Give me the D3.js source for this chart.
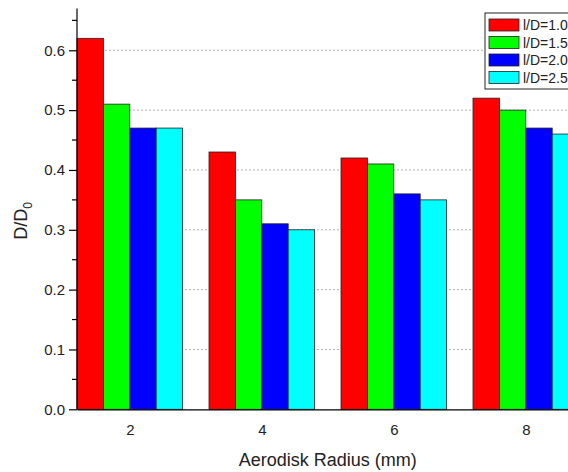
<!DOCTYPE html>
<html>
<head>
<meta charset="utf-8">
<script src="https://cdn.jsdelivr.net/npm/d3@7"></script>
<style>
  html, body { margin: 0; padding: 0; background: #fff; }
  svg { display: block; font-family: "Liberation Sans", Arial, sans-serif; }
</style>
</head>
<body>
<svg id="chart" width="568" height="472"></svg>
<script>
const categories = [2, 4, 6, 8];
const seriesNames = ["l/D=1.0", "l/D=1.5", "l/D=2.0", "l/D=2.5"];
const seriesColors = ["#ff0000", "#00ff00", "#0000ff", "#00ffff"];
const s10 = [0.62, 0.43, 0.42, 0.52];
const s15 = [0.51, 0.35, 0.41, 0.50];
const s20 = [0.47, 0.31, 0.36, 0.47];
const s25 = [0.47, 0.30, 0.35, 0.46];
const seriesValues = [s10, s15, s20, s25];
const yTicks = [0.0, 0.1, 0.2, 0.3, 0.4, 0.5, 0.6];
const yMinorTicks = [0.05, 0.15, 0.25, 0.35, 0.45, 0.55, 0.65];

const svg = d3.select("#chart");
const x = d3.scaleLinear().domain([1.2, 8.8]).range([77, 578.6]);
const y = d3.scaleLinear().domain([0, 0.67]).range([409.3, 8.4]);
const barW = 0.4;

// gridlines
svg.append("g").selectAll("line").data(yTicks.filter(d => d > 0)).join("line")
  .attr("x1", x.range()[0]).attr("x2", x.range()[1])
  .attr("y1", d => y(d)).attr("y2", d => y(d))
  .attr("stroke", "#b0b0b0").attr("stroke-width", 1).attr("stroke-dasharray", "2,2");

// bars
const bars = svg.append("g");
seriesValues.forEach((vals, si) => {
  bars.append("g").selectAll("rect").data(vals).join("rect")
    .attr("x", (d, i) => x(categories[i] - 0.8 + si * barW))
    .attr("width", x(barW) - x(0))
    .attr("y", d => y(d))
    .attr("height", d => y(0) - y(d))
    .attr("fill", seriesColors[si])
    .attr("stroke", "#222").attr("stroke-width", 0.8);
});

// y axis
const yAxis = svg.append("g").attr("transform", `translate(${x.range()[0]},0)`);
yAxis.call(d3.axisLeft(y).tickValues(yTicks).tickFormat(d3.format(".1f")).tickSize(8).tickPadding(4))
  .call(g => g.select(".domain").attr("d", `M0,${y(0)}V${y(0.67)}`).attr("stroke", "#000").attr("stroke-width", 1.2));
yAxis.selectAll("text").attr("font-size", 15).attr("fill", "#222").attr("font-family", "Liberation Sans, Arial, sans-serif");
yAxis.selectAll(".tick line").attr("stroke", "#000").attr("stroke-width", 1.2);
yAxis.append("g").selectAll("line").data(yMinorTicks).join("line")
  .attr("x1", -5).attr("x2", 0).attr("y1", d => y(d)).attr("y2", d => y(d))
  .attr("stroke", "#000").attr("stroke-width", 1.2);

// x axis
const xAxis = svg.append("g").attr("transform", `translate(0,${y(0)})`);
xAxis.call(d3.axisBottom(x).tickValues(categories).tickSize(0).tickPadding(15))
  .call(g => g.select(".domain").attr("stroke", "#000").attr("stroke-width", 1.2));
xAxis.selectAll("text").attr("font-size", 15).attr("fill", "#222").attr("font-family", "Liberation Sans, Arial, sans-serif");

// axis labels
svg.append("text").attr("x", (x.range()[0] + x.range()[1]) / 2).attr("y", 466)
  .attr("text-anchor", "middle").attr("font-size", 18).attr("fill", "#222")
  .text("Aerodisk Radius (mm)");

const yl = svg.append("text").attr("transform", "translate(27,221) rotate(-90)")
  .attr("text-anchor", "middle").attr("font-size", 18).attr("fill", "#222");
yl.append("tspan").text("D/D");
yl.append("tspan").attr("font-size", 12).attr("dy", 5).text("0");

// legend
const lg = svg.append("g").attr("transform", "translate(485,13)");
lg.append("rect").attr("x", 0).attr("y", 0).attr("width", 100).attr("height", 76)
  .attr("fill", "#fff").attr("stroke", "#222").attr("stroke-width", 1);
seriesNames.forEach((name, i) => {
  const row = lg.append("g").attr("transform", `translate(0,${6 + i * 17.5})`);
  row.append("rect").attr("x", 4).attr("y", 0).attr("width", 30).attr("height", 12)
    .attr("fill", seriesColors[i]).attr("stroke", "#222").attr("stroke-width", 0.8);
  row.append("text").attr("x", 38).attr("y", 11).attr("font-size", 14).attr("fill", "#222")
    .text(name);
});
</script>
</body>
</html>
